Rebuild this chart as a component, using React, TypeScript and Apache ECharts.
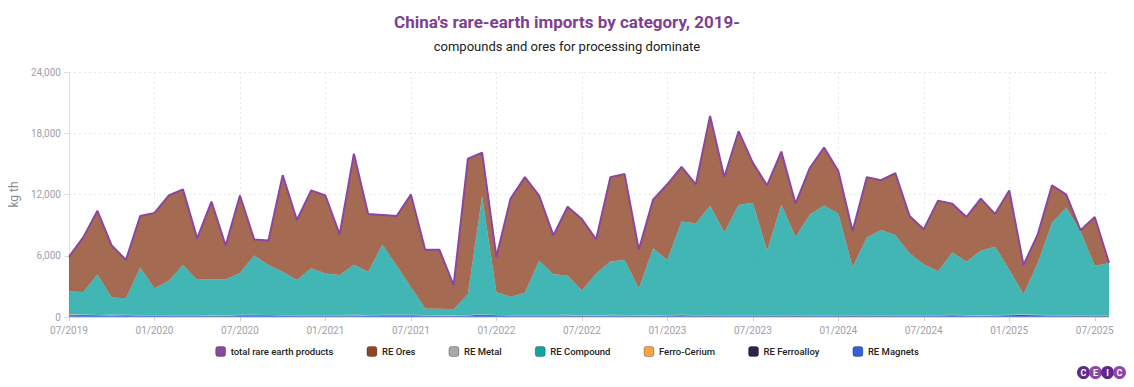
import React, { useEffect, useRef } from "react";
import * as echarts from "echarts";

const startYear = 2019;
const startMonth = 7;
const pointCount = 74;

const totalProducts = [
  5900, 7800, 10400, 7000, 5600, 9900, 10200, 11900, 12500, 7700,
  11300, 7000, 11900, 7600, 7500, 13900, 9500, 12400, 11900, 8100,
  16000, 10100, 10000, 9900, 12000, 6600, 6600, 3100, 15500, 16100,
  5900, 11600, 13700, 11900, 8000, 10800, 9600, 7600, 13700, 14000,
  6600, 11500, 13000, 14700, 13000, 19700, 13700, 18200, 15100, 12900,
  16200, 11100, 14600, 16600, 14300, 8400, 13700, 13400, 14100, 9900,
  8600, 11400, 11100, 9800, 11600, 10100, 12400, 5100, 8100, 12900,
  12000, 8500, 9800, 5300,
];

const reOres = [
  3500, 5400, 6250, 5100, 3770, 5030, 7400, 8340, 7400, 4040,
  7580, 3300, 7620, 1600, 2400, 9460, 5870, 7630, 7620, 3980,
  10900, 5660, 2940, 4900, 9100, 5750, 5770, 2320, 13280, 4350,
  3480, 9610, 11320, 6380, 3800, 6750, 6980, 3320, 8280, 8410,
  3790, 4770, 7410, 5360, 3820, 8790, 5400, 7220, 3900, 6400,
  5160, 3250, 4570, 5660, 4140, 3500, 5900, 4870, 6060, 3660,
  3430, 6920, 4800, 4380, 5100, 3210, 7790, 2940, 2840, 3660,
  1290, 100, 4770, 40,
];

const reCompound = [
  2200, 2200, 3950, 1700, 1630, 4670, 2600, 3360, 4900, 3460,
  3520, 3500, 4080, 5800, 4900, 4240, 3430, 4570, 4080, 3920,
  4900, 4240, 6860, 4800, 2700, 650, 630, 580, 2020, 11550,
  2220, 1790, 2180, 5320, 4000, 3850, 2420, 4080, 5220, 5390,
  2610, 6530, 5390, 9140, 8980, 10710, 8100, 10780, 11000, 6300,
  10840, 7650, 9830, 10740, 9960, 4700, 7600, 8330, 7840, 6040,
  4970, 4280, 6100, 5220, 6300, 6690, 4410, 1960, 5060, 9040,
  10510, 8200, 4830, 5060,
];

const reMetal = [
  50, 40, 40, 50, 40, 40, 50, 40, 40, 50,
  40, 40, 50, 40, 30, 40, 40, 50, 40, 40,
  50, 40, 40, 30, 40, 30, 30, 40, 40, 50,
  40, 40, 50, 40, 40, 50, 40, 40, 50, 40,
  40, 50, 40, 40, 50, 40, 50, 40, 40, 50,
  40, 40, 50, 40, 40, 50, 40, 40, 50, 40,
  40, 50, 40, 40, 50, 40, 40, 50, 40, 40,
  50, 40, 40, 50,
];

const ferroCerium = [
  10, 12, 8, 10, 11, 9, 10, 12, 10, 8,
  10, 11, 9, 10, 12, 10, 8, 10, 11, 9,
  10, 12, 10, 8, 10, 11, 9, 10, 12, 10,
  8, 10, 11, 9, 10, 12, 10, 8, 10, 11,
  9, 10, 12, 10, 8, 10, 11, 9, 10, 12,
  10, 8, 10, 11, 9, 10, 12, 10, 8, 10,
  11, 9, 10, 12, 10, 8, 10, 11, 9, 10,
  12, 10, 8, 10,
];

const reFerroalloy = [
  80, 70, 60, 60, 70, 60, 50, 60, 70, 60,
  60, 70, 80, 70, 60, 60, 70, 60, 70, 80,
  70, 60, 70, 80, 90, 70, 60, 60, 70, 90,
  70, 60, 70, 60, 70, 80, 70, 60, 70, 80,
  70, 60, 70, 80, 70, 80, 70, 60, 70, 80,
  70, 80, 70, 60, 70, 80, 70, 80, 70, 60,
  70, 60, 80, 70, 60, 70, 80, 90, 70, 60,
  70, 80, 70, 80,
];

const reMagnets = [
  150, 120, 100, 90, 90, 80, 90, 80, 70, 80,
  70, 60, 90, 110, 100, 90, 80, 80, 70, 70,
  80, 90, 110, 100, 90, 80, 70, 70, 80, 120,
  90, 80, 70, 80, 70, 70, 60, 70, 80, 70,
  60, 70, 70, 80, 70, 60, 70, 80, 70, 60,
  70, 60, 70, 80, 70, 60, 70, 60, 70, 80,
  70, 80, 90, 80, 70, 80, 90, 110, 100, 80,
  70, 60, 70, 60,
];

const categories: string[] = [];
for (let i = 0; i < pointCount; i++) {
  const m = ((startMonth - 1 + i) % 12) + 1;
  const y = startYear + Math.floor((startMonth - 1 + i) / 12);
  categories.push((m < 10 ? "0" + m : "" + m) + "/" + y);
}

const legendNames = [
  "total rare earth products",
  "RE Ores",
  "RE Metal",
  "RE Compound",
  "Ferro-Cerium",
  "RE Ferroalloy",
  "RE Magnets",
];

const colors: Record<string, string> = {
  "total rare earth products": "#8a479e",
  "RE Ores": "#8f4527",
  "RE Metal": "#a8a8a8",
  "RE Compound": "#13a4a2",
  "Ferro-Cerium": "#f5a346",
  "RE Ferroalloy": "#2f2148",
  "RE Magnets": "#2f62d6",
};

function areaSeries(name: string, data: number[]) {
  return {
    name,
    type: "line",
    stack: "total",
    data,
    showSymbol: false,
    symbol: "none",
    lineStyle: { width: 0 },
    itemStyle: { color: colors[name] },
    areaStyle: { color: colors[name], opacity: 0.8 },
    z: 2,
  };
}

export default function App() {
  const ref = useRef<HTMLDivElement>(null);
  useEffect(() => {
    if (!ref.current) return;
    const chart = echarts.init(ref.current, undefined, { renderer: "svg" });
    chart.setOption({
      animation: false,
      textStyle: { fontFamily: "Roboto" },
      title: [
        {
          text: "China's rare-earth imports by category, 2019-",
          left: "center",
          top: 8,
          textStyle: { color: "#7e3f93", fontSize: 17, fontWeight: "bold", fontFamily: "Roboto" },
        },
        {
          text: "compounds and ores for processing dominate",
          left: "center",
          top: 35,
          textStyle: { color: "#222", fontSize: 13, fontWeight: "normal", fontFamily: "Roboto" },
        },
      ],
      legend: {
        data: legendNames,
        bottom: 25,
        left: "center",
        itemGap: 33,
        itemWidth: 10,
        itemHeight: 10,
        icon: "roundRect",
        textStyle: { fontSize: 9.5, fontWeight: 500, color: "#222", fontFamily: "Roboto" },
        itemStyle: { borderWidth: 1, borderColor: "rgba(0,0,0,0.25)" },
      },
      grid: { left: 66, right: 25, top: 72, bottom: 70 },
      xAxis: {
        type: "category",
        data: categories,
        boundaryGap: false,
        axisLine: { show: true, lineStyle: { color: "#d8d8d8" } },
        axisTick: { show: true, interval: 5, length: 4, lineStyle: { color: "#d0d0d0" } },
        axisLabel: { interval: 5, color: "#a0a0a8", fontSize: 10, margin: 8 },
        splitLine: { show: true, interval: 5, lineStyle: { color: "#e8e8e8", type: [2, 3] } },
      },
      yAxis: {
        type: "value",
        min: 0,
        max: 24000,
        interval: 6000,
        name: "kg th",
        nameLocation: "middle",
        nameGap: 40,
        nameTextStyle: { color: "#8a8a95", fontSize: 12 },
        axisLine: { show: true, lineStyle: { color: "#e0e0e0" } },
        axisTick: { show: true, length: 5, lineStyle: { color: "#e0e0e0" } },
        axisLabel: {
          color: "#a0a0a8",
          fontSize: 10,
          formatter: (v: number) => v.toLocaleString("en-US"),
        },
        splitLine: { show: true, lineStyle: { color: "#e8e8e8", type: [2, 3] } },
      },
      series: [
        areaSeries("RE Magnets", reMagnets),
        areaSeries("RE Ferroalloy", reFerroalloy),
        areaSeries("Ferro-Cerium", ferroCerium),
        areaSeries("RE Metal", reMetal),
        areaSeries("RE Compound", reCompound),
        areaSeries("RE Ores", reOres),
        {
          name: "total rare earth products",
          type: "line",
          data: totalProducts,
          showSymbol: false,
          symbol: "none",
          lineStyle: { width: 2, color: colors["total rare earth products"] },
          itemStyle: { color: colors["total rare earth products"] },
          z: 5,
        },
      ],
      graphic: [
        {
          type: "group",
          right: 8,
          bottom: 8,
          children: [
            { type: "circle", shape: { cx: 6, cy: 6, r: 6.5 }, style: { fill: "#5d2a86" } },
            { type: "circle", shape: { cx: 18, cy: 6, r: 6.5 }, style: { fill: "#8c46a6" } },
            { type: "circle", shape: { cx: 30, cy: 6, r: 6.5 }, style: { fill: "#5d2a86" } },
            { type: "circle", shape: { cx: 42, cy: 6, r: 6.5 }, style: { fill: "#8c46a6" } },
            { type: "text", x: 6, y: 6, style: { text: "C", fill: "#fff", fontSize: 9, fontWeight: "bold", align: "center", verticalAlign: "middle", fontFamily: "Roboto" } },
            { type: "text", x: 18, y: 6, style: { text: "E", fill: "#fff", fontSize: 9, fontWeight: "bold", align: "center", verticalAlign: "middle", fontFamily: "Roboto" } },
            { type: "text", x: 30, y: 6, style: { text: "I", fill: "#fff", fontSize: 9, fontWeight: "bold", align: "center", verticalAlign: "middle", fontFamily: "Roboto" } },
            { type: "text", x: 42, y: 6, style: { text: "C", fill: "#fff", fontSize: 9, fontWeight: "bold", align: "center", verticalAlign: "middle", fontFamily: "Roboto" } },
          ],
        },
      ],
    });
    return () => chart.dispose();
  }, []);
  return <div ref={ref} style={{ width: 1134, height: 387, margin: "-8px" }} />;
}
